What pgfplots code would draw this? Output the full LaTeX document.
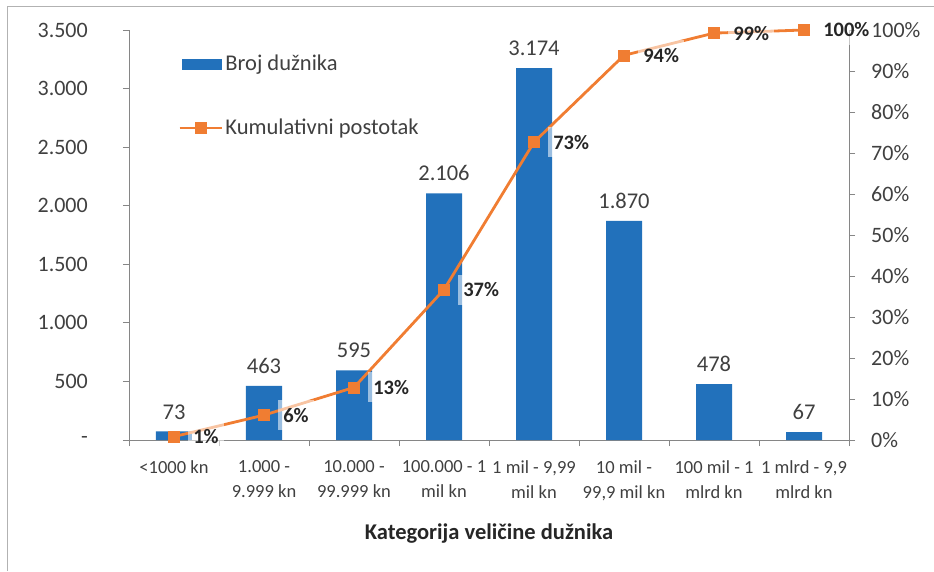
\documentclass[border=0pt]{standalone}
\usepackage{pgfplots}
\pgfplotsset{compat=1.18}
\usepackage{fontspec}
\setmainfont{Carlito}
\definecolor{barblue}{RGB}{34,113,187}
\definecolor{lineorange}{RGB}{240,125,50}
\definecolor{axgray}{RGB}{134,134,134}
\definecolor{txt}{RGB}{64,64,64}
\definecolor{txtdark}{RGB}{38,38,38}
\pgfplotsset{
  lineleg/.style={legend image code/.code={\draw[mark repeat=2,mark phase=2,##1] plot coordinates {(0pt,0pt) (21pt,0pt) (42pt,0pt)};}},
  barleg/.style={legend image code/.code={\fill[barblue] (3pt,-5pt) rectangle (42pt,5pt);}},
}
\begin{document}
\begin{tikzpicture}[x=1pt,y=1pt]
\useasboundingbox (-129,-131) rectangle (805,440);
\draw[gray!60, line width=0.8pt] (-122,-131) -- (-122,434) -- (805,434);
\begin{axis}[
  at={(0,0)}, anchor=south west,
  scale only axis, width=720pt, height=410pt,
  xmin=-0.5, xmax=7.5, ymin=0, ymax=3500,
  axis x line*=bottom, axis y line*=left,
  axis line style={axgray, line width=0.8pt},
  tick style={axgray, line width=0.8pt},
  tick align=outside,
  major tick length=6pt, minor tick length=6pt,
  xtick={0,...,7},
  major x tick style={draw=none},
  minor xtick={-0.5,0.5,...,7.5},
  xticklabels={{<1000 kn},{1.000 -\\9.999 kn},{10.000 -\\99.999 kn},{100.000 - 1\\mil kn},{1 mil - 9,99\\mil kn},{10 mil -\\99,9 mil kn},{100 mil - 1\\mlrd kn},{1 mlrd - 9,9\\mlrd kn}},
  xticklabel style={align=center, font=\fontsize{18.5}{25}\selectfont, text=txt, inner sep=0pt, yshift=-14pt},
  ytick={0,500,...,3500},
  yticklabels={-,500,1.000,1.500,2.000,2.500,3.000,3.500},
  yticklabel style={font=\fontsize{22}{26}\selectfont, text=txt, inner sep=0pt, xshift=-35pt},
  ybar, bar width=36pt,
  nodes near coords={\pgfplotspointmeta},
  point meta=explicit symbolic,
  nodes near coords style={font=\fontsize{22.5}{26}\selectfont, text=txt, inner sep=0pt, anchor=south, yshift=12pt},
]
\addplot[fill=barblue, draw=none] coordinates {
 (0,73) [73]
 (1,463) [463]
 (2,595) [595]
 (3,2106) [2.106]
 (4,3174) [3.174]
 (5,1870) [1.870]
 (6,478) [478]
 (7,67) [67]
};
\end{axis}
\begin{axis}[
  at={(0,0)}, anchor=south west,
  scale only axis, width=720pt, height=410pt,
  xmin=-0.5, xmax=7.5, ymin=0, ymax=100,
  axis x line=none, axis y line*=right,
  yticklabel pos=right,
  axis line style={axgray, line width=0.8pt},
  tick style={axgray, line width=0.8pt},
  tick align=outside, major tick length=6pt,
  ytick={0,10,...,100},
  yticklabels={0\%,10\%,20\%,30\%,40\%,50\%,60\%,70\%,80\%,90\%,100\%},
  yticklabel style={font=\fontsize{22}{26}\selectfont, text=txt, inner sep=0pt, xshift=16pt},
  clip=false,
  legend style={at={(axis description cs:0.068,0.945)}, anchor=north west, draw=none, fill=none,
    font=\fontsize{22.5}{26}\selectfont, text=txt, row sep=42pt, inner sep=0pt, nodes={inner sep=2.5pt}},
  legend cell align=left,
]
\addlegendimage{barleg}
\addlegendentry{Broj dužnika}
\addplot[lineorange, line width=2.8pt, mark=square*, mark size=5.5pt, mark options={solid, line width=0.5pt},
  lineleg,
  nodes near coords={\pgfplotspointmeta\%},
  point meta=explicit symbolic,
  nodes near coords style={font=\bfseries\fontsize{20.5}{24}\selectfont, text=txtdark, anchor=west, xshift=14pt,
    fill=white, fill opacity=0.55, text opacity=1, inner xsep=5pt, inner ysep=0pt, minimum height=30pt}]
coordinates {
 (0,0.83) [1]
 (1,6.07) [6]
 (2,12.81) [13]
 (3,36.68) [37]
 (4,72.64) [73]
 (5,93.83) [94]
 (6,99.24) [99]
 (7,100) [100]
};
\addlegendentry{Kumulativni postotak}
\end{axis}
\node[font=\bfseries\fontsize{22.5}{26}\selectfont, text=txtdark] at (360,-94) {Kategorija veličine dužnika};
\end{tikzpicture}
\end{document}
